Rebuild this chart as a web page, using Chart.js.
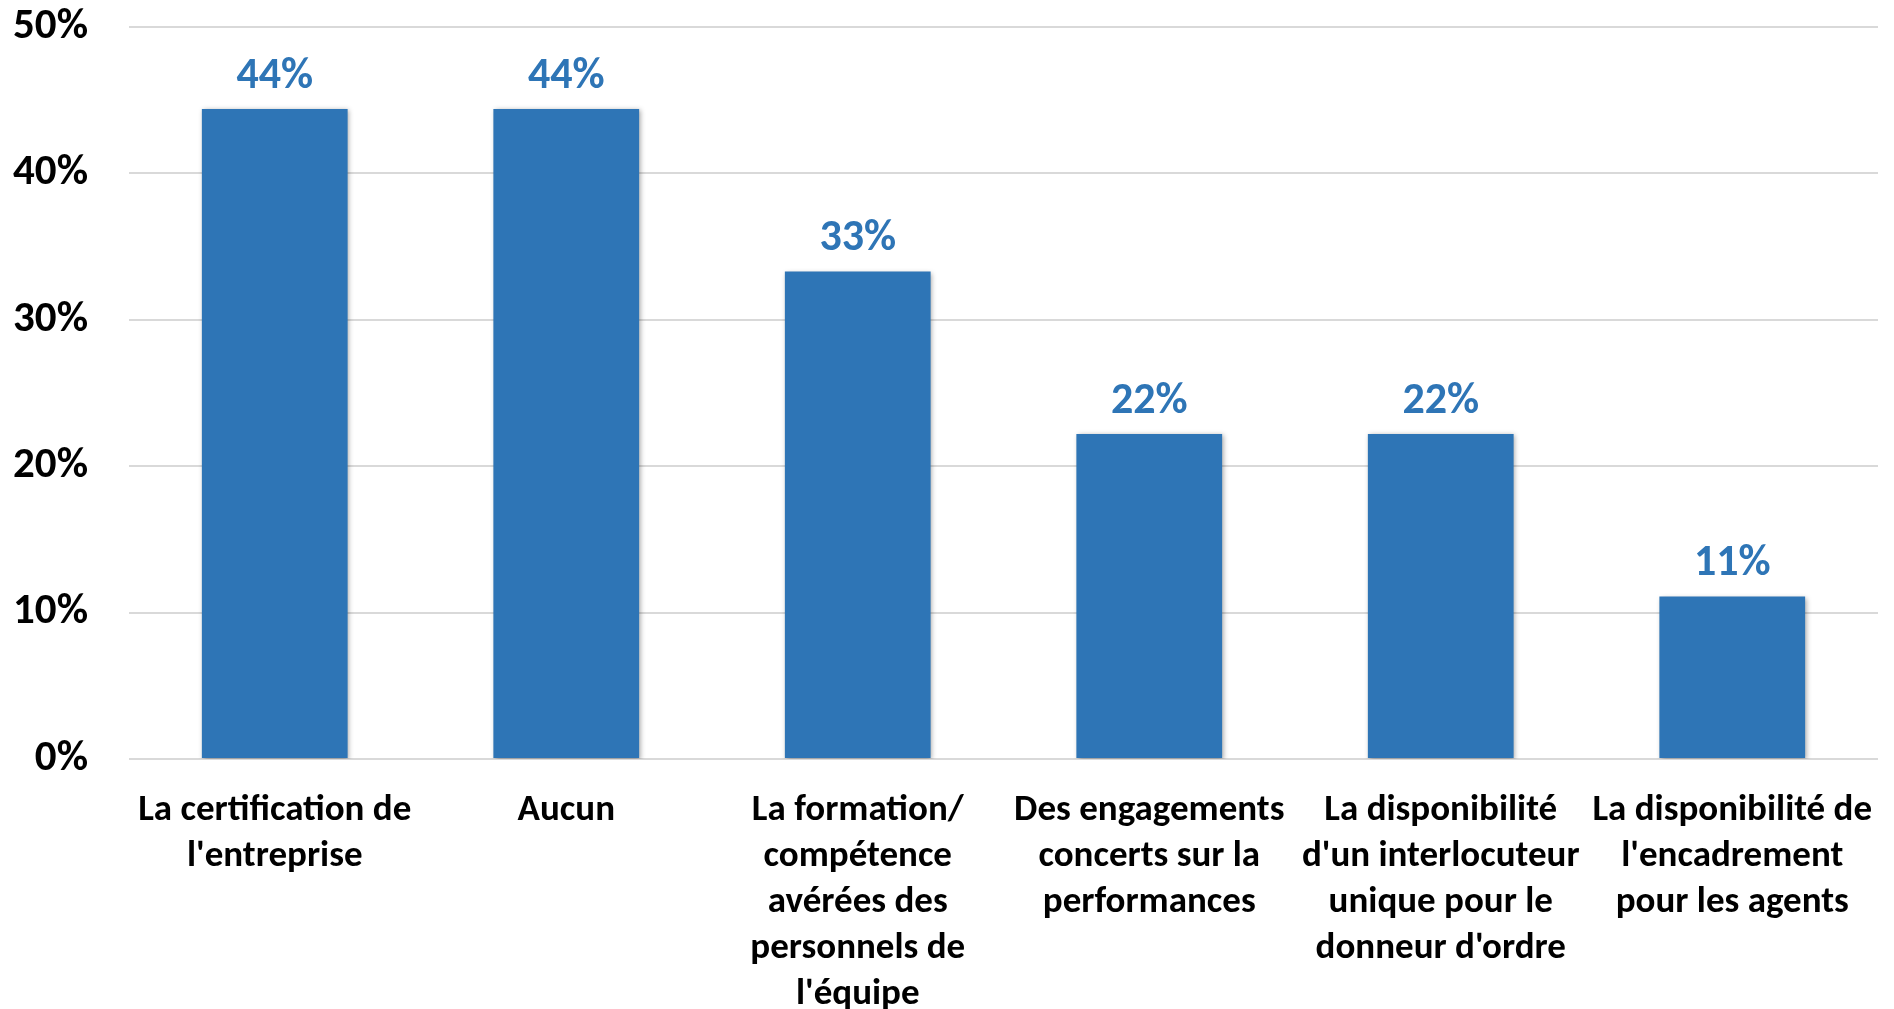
<!DOCTYPE html>
<html>
<head>
<meta charset="utf-8">
<script src="https://cdn.jsdelivr.net/npm/chart.js@4.4.1/dist/chart.umd.min.js"></script>
<style>
html,body{margin:0;padding:0;background:#fff;}
#wrap{width:1894px;height:1009px;position:relative;}
</style>
</head>
<body>
<div id="wrap"><canvas id="c"></canvas></div>
<script>
const categories = [
  ["La certification de", "l'entreprise"],
  ["Aucun"],
  ["La formation/", "compétence", "avérées des", "personnels de", "l'équipe"],
  ["Des engagements", "concerts sur la", "performances"],
  ["La disponibilité", "d'un interlocuteur", "unique pour le", "donneur d'ordre"],
  ["La disponibilité de", "l'encadrement", "pour les agents"]
];
const values = [44.4, 44.4, 33.3, 22.2, 22.2, 11.1];
const yTicks = [0, 10, 20, 30, 40, 50];

const FONT = "Carlito, Lato, sans-serif";
const BLUE = '#2E75B6';

const shadowPlugin = {
  id: 'barShadow',
  beforeDatasetsDraw(chart) {
    const ctx = chart.ctx;
    ctx.save();
    ctx.shadowColor = 'rgba(0,0,0,0.35)';
    ctx.shadowBlur = 5;
    ctx.shadowOffsetX = 1.5;
    ctx.shadowOffsetY = 1.5;
  },
  afterDatasetsDraw(chart) {
    chart.ctx.restore();
  }
};

const labelPlugin = {
  id: 'valueLabels',
  afterDatasetsDraw(chart) {
    const ctx = chart.ctx;
    const meta = chart.getDatasetMeta(0);
    ctx.save();
    ctx.font = "bold 44px " + FONT;
    ctx.fillStyle = BLUE;
    ctx.textAlign = 'center';
    ctx.textBaseline = 'alphabetic';
    meta.data.forEach((bar, i) => {
      ctx.fillText(Math.round(values[i]) + '%', bar.x, bar.y - 21);
    });
    ctx.restore();
  }
};

new Chart(document.getElementById('c'), {
  type: 'bar',
  data: {
    labels: categories,
    datasets: [{
      data: values,
      backgroundColor: BLUE,
      borderWidth: 0,
      categoryPercentage: 0.5,
      barPercentage: 1.0
    }]
  },
  options: {
    responsive: true,
    maintainAspectRatio: false,
    animation: false,
    layout: { padding: { top: 27, right: 16, left: 0, bottom: 0 } },
    plugins: { legend: { display: false }, tooltip: { enabled: false } },
    scales: {
      x: {
        grid: { display: false, drawTicks: false },
        border: { display: false },
        ticks: {
          color: '#000',
          font: { family: FONT, size: 37, weight: 'bold', lineHeight: 1.24 },
          padding: 29,
          maxRotation: 0,
          autoSkip: false
        },
        afterFit(scale) { scale.height = 250; scale.paddingLeft = 0; scale.paddingRight = 0; }
      },
      y: {
        min: 0,
        max: 50,
        afterBuildTicks(scale) { scale.ticks = yTicks.map(v => ({ value: v })); },
        grid: { color: '#D9D9D9', lineWidth: 2, drawTicks: false },
        border: { display: false },
        ticks: {
          color: '#000',
          font: { family: FONT, size: 43, weight: 'bold' },
          padding: 41,
          callback: v => v + '%'
        },
        afterFit(scale) { scale.width = 129; scale.paddingTop = 0; scale.paddingBottom = 0; }
      }
    }
  },
  plugins: [shadowPlugin, labelPlugin]
});
</script>
</body>
</html>
